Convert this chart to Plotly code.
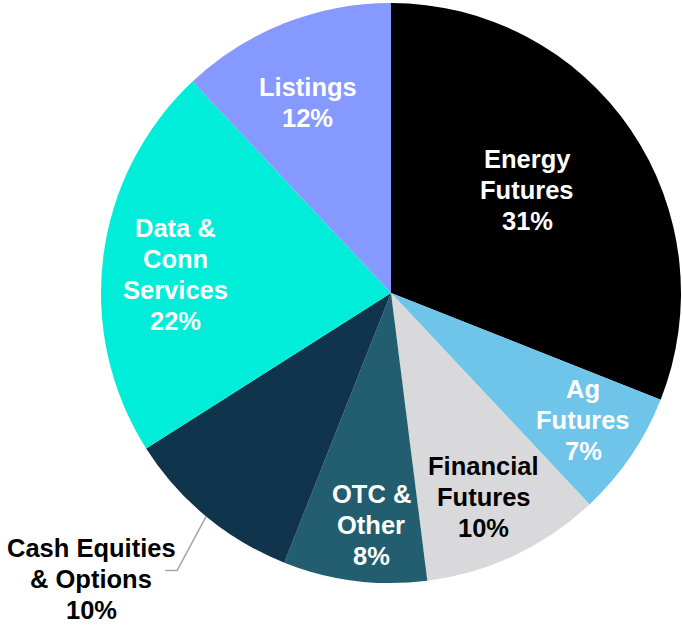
import math
import plotly.graph_objects as go

# ---- data ----
labels = ["Energy Futures", "Ag Futures", "Financial Futures", "OTC & Other",
          "Cash Equities & Options", "Data & Conn Services", "Listings"]
label_lines = [["Energy", "Futures"], ["Ag", "Futures"], ["Financial", "Futures"], ["OTC &", "Other"],
               ["Cash Equities", "& Options"], ["Data &", "Conn", "Services"], ["Listings"]]
values = [31, 7, 10, 8, 10, 22, 12]

# ---- styles ----
colors = ["#000000", "#6EC5E9", "#D9D9DB", "#235D70", "#0F344B", "#00EED9", "#8699FF"]
text_colors = ["white", "white", "black", "white", "black", "white", "white"]
# label placement: (fraction of radius, angular offset from slice middle in degrees)
label_place = [(0.588, -2.9), (0.794, -0.7), (0.773, 0.7), (0.803, -2.3), None, (0.747, -2.4), (0.718, -1.9)]

W, H = 682, 626
ML, MR, MT, MB = 101, 1, 3, 43
PW, PH = W - ML - MR, H - MT - MB
CX, CY = ML + PW / 2, MT + PH / 2
R = min(PW, PH) / 2
FONT = "Liberation Sans, Arial, sans-serif"
FS = 25.5
LINE = 31


def to_paper(px, py):
    return (px - ML) / PW, (H - MB - py) / PH


fig = go.Figure(go.Pie(
    labels=labels,
    values=values,
    sort=False,
    direction="clockwise",
    rotation=0,
    marker=dict(colors=colors, line=dict(width=0)),
    textinfo="none",
    hoverinfo="label+percent",
    showlegend=False,
))

annotations = []
shapes = []


def add_label(lines, px, py, color):
    n = len(lines)
    for k, ln in enumerate(lines):
        ly = py + (k - (n - 1) / 2) * LINE
        x, y = to_paper(px, ly)
        annotations.append(dict(x=x, y=y, xref="paper", yref="paper", text=f"<b>{ln}</b>",
                                showarrow=False, xanchor="center", yanchor="middle",
                                borderpad=0,
                                font=dict(family=FONT, size=FS, color=color)))


total = sum(values)
cum = 0
for i, v in enumerate(values):
    mid = (cum + v / 2) / total * 360
    cum += v
    pct = round(v / total * 100)
    lines = label_lines[i] + [f"{pct}%"]
    if label_place[i] is not None:
        frac, off = label_place[i]
        a = math.radians(mid + off)
        r = frac * R
        px, py = CX + r * math.sin(a), CY - r * math.cos(a)
        add_label(lines, px, py, text_colors[i])
    else:
        a = math.radians(mid)
        sx, sy = CX + R * math.sin(a), CY - R * math.cos(a)
        ex, ey = sx - 29, sy + 54
        tx, ty = ex - 12, ey
        p0, p1, p2 = to_paper(sx, sy), to_paper(ex, ey), to_paper(tx, ty)
        shapes.append(dict(type="path", xref="paper", yref="paper",
                           path=f"M {p0[0]} {p0[1]} L {p1[0]} {p1[1]} L {p2[0]} {p2[1]}",
                           line=dict(color="#A6A6A6", width=1.5)))
        add_label(lines, 91, 579, text_colors[i])

fig.update_layout(
    width=W, height=H,
    margin=dict(l=ML, r=MR, t=MT, b=MB),
    paper_bgcolor="white", plot_bgcolor="white",
    annotations=annotations, shapes=shapes,
)

fig.write_html("out.html", config={"displayModeBar": False},
               post_script="document.body.style.margin='0';document.body.style.overflow='hidden';")
